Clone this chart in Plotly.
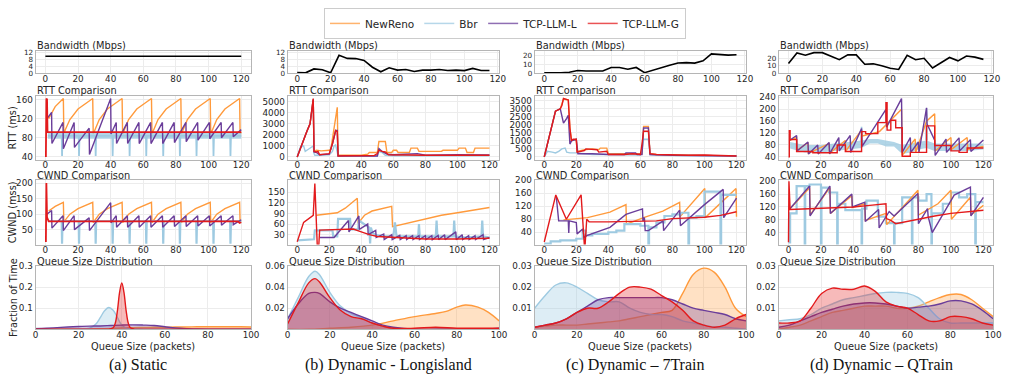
import plotly.graph_objects as go

W, H = 1016, 383

# ---------------- colours ----------------
C_RENO, F_RENO = '#ff9a3c', 'rgba(255,154,60,0.3)'
C_BBR, F_BBR = '#9ecae1', 'rgba(158,202,225,0.35)'
C_LLML, F_LLML = '#6a3d9a', 'rgba(106,61,154,0.3)'
C_LLMG, F_LLMG = '#e31a1c', 'rgba(227,26,28,0.3)'
BAND_BBR = 'rgba(158,202,225,0.8)'

series_names = ['NewReno', 'Bbr', 'TCP-LLM-L', 'TCP-LLM-G']
captions = ['(a) Static', '(b) Dynamic - Longisland', '(c) Dynamic \u2013 7Train', '(d) Dynamic \u2013 QTrain']
row_titles = ['Bandwidth (Mbps)', 'RTT Comparison', 'CWND Comparison', 'Queue Size Distribution']

# ---------------- bandwidth ----------------
bw_a_t = [0, 120]
bw_a = [10, 10]
bw_t = [0, 5, 10, 15, 20, 25, 30, 35, 40, 45, 50, 55, 60, 65, 70, 75, 80, 85, 90, 95, 100, 105, 110, 115]
bw_b = [0.3, 0.2, 2.5, 2.0, 0.2, 10.5, 8.7, 8.6, 7.5, 3.5, 0.8, 3.2, 1.8, 2.2, 1.0, 1.8, 1.8, 2.2, 1.6, 1.8, 1.5, 2.8, 1.6, 1.6]
bw_c = [0.5, 0.3, 0.3, 1.0, 3.0, 2.5, 2.5, 2.5, 6.5, 6.5, 4.5, 6.5, 0.5, 3.5, 6.5, 9.0, 11.5, 12.0, 11.5, 14.0, 22.0, 21.0, 20.5, 21.0]
bw_d = [13, 27, 24, 27.5, 27.5, 23, 18, 24.5, 24.5, 12, 12.5, 10, 6.5, 5, 24, 18, 20, 7, 14, 21, 16.5, 23, 21.5, 18.5]

# ---------------- (a) static: RTT ----------------
reno_rtt_a_t = [2, 6, 11, 11.3, 15, 20, 29, 29.3, 33, 38, 47, 47.3, 51, 56, 65, 65.3, 69, 74, 83, 83.3, 87, 92, 101, 101.3, 105, 110, 119, 119.3, 120]
reno_rtt_a = [120, 145, 162, 90, 118, 140, 162, 88, 118, 140, 162, 88, 118, 140, 162, 88, 118, 140, 162, 88, 118, 140, 162, 88, 118, 140, 162, 88, 92]
bbr_band_a_t = [1.5, 120]
bbr_band_a_lo = [78, 78]
bbr_band_a_hi = [90, 90]
bbr_rtt_a_t = [1.5, 10.0, 10.2, 10.5, 20.4, 20.6, 20.9, 30.6, 30.8, 31.1, 41.0, 41.2, 41.5, 51.4, 51.6, 51.9, 61.6, 61.8, 62.1, 72.0, 72.2, 72.5, 82.2, 82.4, 82.7, 92.4, 92.6, 92.9, 102.8, 103.0, 103.3, 113.2, 113.4, 113.7, 120]
bbr_rtt_a = [84, 84, 42, 84, 84, 42, 84, 84, 42, 84, 84, 42, 84, 84, 42, 84, 84, 42, 84, 84, 42, 84, 84, 42, 84, 84, 42, 84, 84, 42, 84, 84, 42, 84, 84]
llml_a_t = [1.0, 3.8, 4.0, 10.8, 11.0, 17.6, 17.8, 26.8, 27.0, 40.0, 40.2, 43.4, 43.6, 50.2, 50.4, 57.3, 57.5, 64.5, 64.7, 71.7, 71.9, 78.9, 79.1, 86.1, 86.3, 93.3, 93.5, 100.5, 100.7, 107.7, 107.9, 114.9, 115.1, 120]
llml_rtt_a = [120, 133, 68, 112, 57, 112, 60, 100, 45, 162, 88, 112, 68, 112, 68, 112, 68, 112, 68, 112, 68, 112, 70, 112, 72, 112, 75, 112, 78, 112, 80, 112, 82, 97]
llmg_rtt_a_t = [0.3, 0.6, 1.0, 1.3, 120]
llmg_rtt_a = [40, 162, 160, 92, 92]

# ---------------- (a) static: CWND ----------------
reno_cwnd_a = [110, 125, 138, 75, 100, 118, 138, 73, 100, 118, 138, 73, 100, 118, 138, 73, 100, 118, 138, 73, 100, 118, 138, 73, 100, 118, 138, 73, 76]
bbr_cwnd_a = [78, 78, 5, 78, 78, 5, 78, 78, 5, 78, 78, 5, 78, 78, 5, 78, 78, 5, 78, 78, 5, 78, 78, 5, 78, 78, 5, 78, 78, 5, 78, 78, 5, 78, 78]
llml_cwnd_a = [100, 112, 55, 95, 47, 95, 50, 88, 47, 137, 72, 95, 58, 95, 58, 95, 58, 95, 58, 95, 58, 95, 60, 95, 60, 95, 62, 95, 62, 95, 64, 95, 66, 82]
llmg_cwnd_a_t = [0.3, 0.6, 1.0, 2.0, 60, 118, 119, 120]
llmg_cwnd_a = [10, 200, 90, 77, 77, 77, 72, 74]

# ---------------- (b) Longisland: RTT ----------------
reno_rtt_b_t = [0, 3, 6, 8, 10, 10.5, 12, 15, 20, 21, 23, 25, 25.5, 30, 40, 44, 45, 50, 51, 55, 56, 59, 60, 62, 63, 70, 71, 75, 76, 90, 91, 100, 101, 105, 106, 110, 111, 120]
reno_rtt_b = [0, 1200, 2300, 3000, 5200, 500, 600, 550, 600, 700, 2500, 4500, 150, 150, 150, 250, 400, 400, 1400, 1400, 400, 400, 600, 600, 400, 400, 800, 800, 500, 500, 600, 600, 800, 800, 400, 400, 800, 800]
bbr_rtt_b_t = [0, 2, 4, 5, 7, 9, 10, 10.5, 11, 13, 20, 22, 23, 24, 25, 25.5, 50, 51, 53, 55, 60, 120]
bbr_rtt_b = [0, 900, 1000, 500, 700, 900, 1000, 300, 150, 150, 200, 500, 1000, 1100, 200, 80, 80, 500, 400, 150, 100, 100]
llml_rtt_b_t = [0, 3, 6, 8, 10, 10.5, 12, 14, 20, 22, 24, 25, 25.5, 50, 51, 53, 56, 60, 70, 75, 80, 100, 120]
llml_rtt_b = [0, 1200, 2300, 3000, 5200, 450, 400, 200, 250, 1200, 2400, 2400, 80, 80, 750, 500, 250, 200, 250, 300, 150, 200, 180]
llmg_rtt_b_t = [0, 3, 6, 8, 10, 10.5, 12, 13, 14, 17, 20, 22, 24, 25, 25.5, 30, 40, 48, 50, 51, 53, 55, 57, 60, 70, 80, 90, 100, 110, 120]
llmg_rtt_b = [0, 1200, 2300, 3000, 5300, 500, 450, 500, 200, 250, 300, 1200, 2400, 2300, 80, 100, 100, 120, 300, 600, 500, 450, 200, 180, 180, 150, 130, 150, 150, 150]

# ---------------- (b) Longisland: CWND ----------------
reno_cwnd_b_t = [12, 25, 30, 37.5, 38, 42, 46.7, 59, 59.5, 68, 80, 90, 100, 110, 120]
reno_cwnd_b = [85, 92, 105, 133, 62, 85, 97, 110, 53, 62, 75, 85, 92, 100, 107]
bbr_cwnd_b_t = [0, 9, 10.5, 11, 22, 22.5, 25, 25.5, 33, 33.5, 38, 38.5, 45, 45.5, 46, 47, 50, 55, 60, 61, 62, 70, 75.5, 76, 76.5, 86.5, 87, 87.5, 97.5, 98, 98.5, 105, 115, 115.5, 116, 120]
bbr_cwnd_b = [14, 17, 17, 42, 42, 25, 25, 75, 75, 45, 45, 70, 50, 5, 50, 35, 28, 25, 25, 65, 25, 25, 25, 60, 25, 25, 70, 25, 25, 70, 25, 22, 25, 70, 25, 22]
llml_cwnd_b_t = [14, 23, 32, 32.3, 38.5, 38.8, 44, 44.3, 49, 49.3, 54, 54.3, 59, 59.3, 64, 64.3, 68, 68.3, 72, 72.3, 76, 76.3, 80, 80.3, 84, 84.3, 88, 88.3, 92, 92.3, 99, 99.3, 103, 103.3, 107, 107.3, 111, 111.3, 116, 116.3, 120]
llml_cwnd_b = [22, 22, 70, 38, 83, 45, 60, 30, 42, 22, 32, 16, 30, 16, 28, 16, 27, 16, 27, 16, 27, 16, 27, 16, 27, 16, 28, 16, 30, 16, 38, 16, 30, 16, 27, 16, 27, 16, 30, 16, 22]
llmg_cwnd_b_t = [0, 4, 10, 11, 12.5, 13.5, 14, 20, 30, 35, 40, 45, 50, 60, 70, 80, 100, 120]
llmg_cwnd_b = [10, 65, 85, 175, 2, 2, 43, 44, 45, 46, 38, 30, 25, 22, 20, 18, 18, 20]

# ---------------- (c) 7Train: RTT ----------------
reno_rtt_c_t = [0, 4, 7, 10, 12, 15, 16, 17, 20, 20.5, 25, 30, 34, 35, 39, 40, 55, 61, 62, 65, 66, 70, 120]
reno_rtt_c = [0, 1600, 2850, 3000, 3600, 3550, 1800, 1050, 1050, 350, 450, 500, 450, 550, 550, 200, 200, 200, 1900, 1900, 200, 150, 50]
bbr_rtt_c_t = [0, 2, 5, 7, 9, 11, 13, 14, 16, 20, 25, 30, 40, 50, 60, 61, 62, 65, 66, 70, 80, 120]
bbr_rtt_c = [0, 350, 300, 250, 350, 500, 550, 300, 250, 250, 200, 150, 150, 150, 120, 400, 1100, 1100, 150, 100, 80, 50]
llml_rtt_c_t = [0, 4, 7, 10, 12, 14, 15, 16, 17, 20, 21, 30, 40, 50, 51, 57, 58, 61, 62, 65, 66, 80, 120]
llml_rtt_c = [0, 1600, 2850, 3000, 2100, 2400, 2600, 800, 1000, 1100, 200, 200, 150, 150, 250, 250, 150, 150, 1800, 1800, 150, 100, 60]
llmg_rtt_c_t = [0, 4, 7, 10, 11, 12, 15, 16, 17, 18, 20, 20.5, 25, 26, 30, 33, 34, 39, 40, 50, 55, 60, 61, 62, 65, 66, 70, 80, 90, 100, 110, 120]
llmg_rtt_c = [0, 1600, 2850, 3000, 3200, 3640, 3550, 1800, 1000, 1100, 1100, 300, 400, 500, 450, 450, 300, 350, 150, 150, 200, 150, 800, 1600, 1600, 200, 150, 120, 100, 120, 80, 60]

# ---------------- (c) 7Train: CWND ----------------
reno_cwnd_c_t = [12, 27, 41, 51, 51.3, 62, 74, 84.5, 84.8, 100.2, 100.5, 119.7, 120]
reno_cwnd_c = [78, 85, 102, 125, 65, 85, 105, 132, 88, 175, 85, 175, 88]
bbr_cwnd_c_t = [0, 4, 10, 20, 24, 26, 30, 40, 45, 50, 60, 65, 65.4, 66, 70, 75, 80, 85, 90, 90.4, 91, 95, 100, 110, 110.4, 111, 120]
bbr_cwnd_c = [5, 12, 15, 20, 45, 30, 35, 40, 45, 65, 60, 3, 55, 55, 70, 90, 95, 100, 3, 85, 85, 90, 165, 3, 155, 155, 155]
llml_cwnd_c_t = [7.5, 9, 15, 15.3, 15.6, 20, 20.5, 24, 25, 26.5, 41, 51, 61.3, 61.6, 62.5, 63, 65, 74.2, 74.5, 84.5, 85, 100, 111.7, 112, 120]
llml_cwnd_c = [150, 75, 75, 38, 75, 70, 35, 50, 22, 30, 55, 95, 112, 75, 85, 45, 45, 75, 45, 108, 60, 125, 172, 85, 145]
llmg_cwnd_c_t = [0, 7.2, 13.8, 23, 25, 25.5, 26.5, 28, 40, 50, 60, 70, 80, 90, 100, 110, 120]
llmg_cwnd_c = [10, 155, 80, 155, 2, 2, 80, 72, 72, 73, 73, 75, 82, 85, 86, 92, 103]

# ---------------- (d) QTrain: RTT ----------------
reno_rtt_d_t = [0.5, 5, 5.3, 12, 12.3, 25, 25.3, 35, 35.3, 45, 45.3, 56, 69.6, 70, 78, 78.3, 85, 90, 90.3, 100, 100.3, 110, 110.3, 120]
reno_rtt_d = [95, 105, 62, 88, 52, 85, 52, 95, 60, 130, 110, 125, 200, 45, 100, 55, 160, 185, 60, 105, 65, 105, 65, 75]
bbr_band_d_t = [1, 10, 20, 30, 40, 45, 50, 55, 60, 65, 70, 75, 80, 85, 90, 100, 110, 120]
bbr_band_d_lo = [68, 55, 55, 60, 65, 70, 85, 85, 75, 75, 50, 55, 65, 70, 60, 60, 60, 65]
bbr_band_d_hi = [90, 80, 80, 85, 90, 95, 100, 100, 95, 90, 80, 85, 90, 95, 85, 85, 85, 85]
bbr_spike_d_t = [44.7, 45, 45.3, None, 84.7, 85, 85.3]
bbr_spike_d = [90, 141, 90, None, 95, 204, 95]
llml_rtt_d_t = [0.5, 5, 5.3, 12, 12.3, 18, 18.3, 25, 25.3, 31, 31.3, 38, 38.3, 45, 45.3, 60, 60.4, 69.6, 70, 75, 75.3, 80, 80.3, 85, 85.3, 90, 90.3, 97, 97.3, 105, 105.3, 112, 112.3, 120]
llml_rtt_d = [95, 112, 60, 90, 50, 80, 50, 88, 50, 105, 60, 112, 55, 135, 75, 200, 140, 236, 55, 105, 55, 90, 55, 205, 150, 96, 45, 100, 55, 104, 60, 98, 58, 97]
llmg_rtt_d_t = [0, 0.5, 1, 5, 15, 25, 30, 35, 45, 47.5, 55, 60, 60.7, 63, 66, 70, 75, 85, 90, 100, 105, 110, 120]
llmg_rtt_d = [40, 128, 98, 58, 54, 54, 80, 58, 125, 118, 155, 222, 130, 163, 138, 42, 55, 144, 78, 60, 55, 70, 70]

# ---------------- (d) QTrain: CWND ----------------
reno_cwnd_d_t = [0.5, 13, 13.3, 25.5, 25.8, 39, 39.3, 47, 47.3, 60, 60.5, 79.7, 80, 92, 100, 100.3, 112, 112.3, 120]
reno_cwnd_d = [112, 180, 95, 180, 100, 155, 118, 130, 78, 100, 65, 172, 95, 130, 172, 82, 150, 95, 125]
bbr_cwnd_d_t = [0, 1, 5, 10, 10.3, 13, 20, 20.3, 25, 30, 30.3, 35, 45, 45.3, 48, 55, 60, 65, 65.3, 70, 76, 76.3, 80, 85, 88, 88.3, 95, 100, 105, 110, 115, 115.3, 120]
bbr_cwnd_d = [10, 100, 185, 3, 185, 190, 3, 180, 165, 3, 130, 110, 3, 115, 140, 90, 70, 3, 70, 150, 3, 150, 140, 160, 3, 100, 130, 165, 150, 160, 3, 135, 135]
llml_cwnd_d_t = [0.5, 13, 13.3, 25.5, 25.8, 39, 39.3, 47, 47.3, 55.5, 55.8, 62, 65, 79.7, 80, 85.6, 86, 88.5, 102, 112, 112.3, 120]
llml_cwnd_d = [112, 185, 92, 185, 100, 160, 120, 135, 75, 112, 55, 106, 92, 162, 68, 115, 90, 40, 157, 182, 92, 150]
llmg_cwnd_d_t = [0, 0.3, 1, 20, 40, 50, 60, 60.3, 63, 66, 70, 80, 90, 100, 110, 120]
llmg_cwnd_d = [10, 200, 112, 117, 120, 125, 130, 84, 78, 68, 72, 84, 92, 100, 106, 110]

# ---------------- queue size distributions ----------------
q_x = [0, 5, 10, 15, 20, 25, 30, 35, 40, 45, 50, 55, 60, 65, 70, 75, 80, 85, 90, 95, 100]

reno_q_a = [0, 0, 0, 0, 0.001, 0.002, 0.003, 0.004, 0.006, 0.008, 0.009, 0.01, 0.01, 0.011, 0.011, 0.012, 0.012, 0.012, 0.012, 0.012, 0.011]
bbr_q_a_x = [0, 5, 10, 15, 20, 25, 28, 30, 32, 34, 36, 38, 40, 42, 45, 50, 60, 70, 80, 90, 100]
bbr_q_a = [0.004, 0.002, 0.001, 0.001, 0.002, 0.005, 0.025, 0.055, 0.088, 0.103, 0.09, 0.055, 0.02, 0.006, 0.002, 0.001, 0, 0, 0, 0, 0]
llml_q_a = [0.003, 0.005, 0.008, 0.011, 0.013, 0.015, 0.016, 0.018, 0.02, 0.021, 0.02, 0.018, 0.012, 0.006, 0.003, 0.002, 0.001, 0, 0, 0, 0]
llmg_q_a_x = [0, 30, 34, 36, 37, 38, 39, 40, 41, 42, 43, 44, 46, 50, 100]
llmg_q_a = [0, 0, 0.001, 0.007, 0.03, 0.09, 0.176, 0.22, 0.176, 0.09, 0.03, 0.007, 0.001, 0, 0]

reno_q_b_x = [0, 10, 20, 30, 40, 50, 60, 70, 75, 80, 84, 90, 95, 100]
reno_q_b = [0, 0, 0.001, 0.002, 0.004, 0.008, 0.012, 0.015, 0.017, 0.021, 0.023, 0.021, 0.016, 0.008]
bbr_q_b_x = [0, 5, 10, 13, 15, 20, 25, 30, 35, 40, 45, 50, 60, 70, 80, 90, 100]
bbr_q_b = [0.01, 0.03, 0.05, 0.055, 0.052, 0.035, 0.022, 0.015, 0.011, 0.006, 0.003, 0.001, 0, 0, 0, 0, 0]
llml_q_b = [0.01, 0.024, 0.034, 0.035, 0.034, 0.026, 0.02, 0.016, 0.012, 0.008, 0.004, 0.002, 0, 0, 0, 0, 0.001]
llmg_q_b = [0.005, 0.025, 0.044, 0.048, 0.045, 0.03, 0.018, 0.012, 0.01, 0.006, 0.003, 0.001, 0.001, 0.002, 0.001, 0.001, 0.001]

reno_q_c = [0.001, 0.0015, 0.002, 0.002, 0.002, 0.0025, 0.003, 0.0035, 0.004, 0.005, 0.006, 0.007, 0.008, 0.009, 0.017, 0.026, 0.029, 0.027, 0.02, 0.01, 0.006]
bbr_q_c = [0.01, 0.016, 0.021, 0.022, 0.02, 0.017, 0.014, 0.013, 0.013, 0.01, 0.008, 0.007, 0.007, 0.006, 0.004, 0.003, 0.002, 0.001, 0.001, 0.0005, 0]
llml_q_c = [0.001, 0.002, 0.003, 0.005, 0.008, 0.011, 0.014, 0.015, 0.015, 0.015, 0.015, 0.015, 0.015, 0.014, 0.012, 0.01, 0.009, 0.008, 0.007, 0.005, 0.004]
llmg_q_c = [0.001, 0.002, 0.003, 0.005, 0.008, 0.01, 0.01, 0.013, 0.017, 0.02, 0.02, 0.019, 0.016, 0.013, 0.009, 0.004, 0.002, 0.001, 0.002, 0.005, 0.007]

reno_q_d = [0, 0.001, 0.002, 0.004, 0.006, 0.008, 0.009, 0.01, 0.011, 0.011, 0.011, 0.01, 0.01, 0.011, 0.013, 0.015, 0.0165, 0.0165, 0.014, 0.01, 0.006]
bbr_q_d = [0.004, 0.0045, 0.005, 0.007, 0.01, 0.012, 0.014, 0.015, 0.016, 0.017, 0.0175, 0.0175, 0.017, 0.015, 0.01, 0.005, 0.003, 0.003, 0.003, 0.003, 0.003]
llml_q_d = [0.001, 0.002, 0.004, 0.006, 0.008, 0.0095, 0.011, 0.012, 0.0125, 0.0125, 0.012, 0.011, 0.01, 0.0105, 0.011, 0.012, 0.0135, 0.0135, 0.012, 0.009, 0.005]
llmg_q_d = [0.003, 0.003, 0.004, 0.01, 0.017, 0.0195, 0.019, 0.019, 0.0205, 0.018, 0.013, 0.011, 0.01, 0.007, 0.004, 0.004, 0.006, 0.006, 0.005, 0.003, 0.002]

# ---------------- axis settings ----------------
time_ticks = [0, 20, 40, 60, 80, 100, 120]
queue_ticks = [0, 20, 40, 60, 80, 100]
x_ranges = [
    [[-6, 126], [-5.75, 120.75], [-5.75, 120.75], [-5.75, 120.75]],
    [[-6, 126]] * 4,
    [[-6, 126]] * 4,
    [[0, 100]] * 4,
]
y_ranges = [
    [[0, 13.2], [0, 13.2], [0, 25.5], [0, 30]],
    [[34, 168], [-265, 5565], [-182, 3822], [30, 246]],
    [[2, 209], [2, 184], [2, 200], [3, 203]],
    [[0, 0.3], [0, 0.06], [0, 0.03], [0, 0.03]],
]
y_ticks = [
    [[0, 4, 8, 12], [0, 4, 8, 12], [0, 10, 20], [0, 10, 20]],
    [[40, 80, 120, 160], [0, 1000, 2000, 3000, 4000, 5000], [0, 500, 1000, 1500, 2000, 2500, 3000, 3500], [40, 80, 120, 160, 200, 240]],
    [[50, 100, 150, 200], [30, 60, 90, 120, 150], [40, 80, 120, 160, 200], [40, 80, 120, 160, 200]],
    [[0.1, 0.2, 0.3], [0.02, 0.04, 0.06], [0.01, 0.02, 0.03], [0.01, 0.02, 0.03]],
]
y_ticktext = [
    None, None, None,
    [['0.1', '0.2', '0.3'], ['0.02', '0.04', '0.06'], ['0.01', '0.02', '0.03'], ['0.01', '0.02', '0.03']],
]

COL_PX = [(33, 251), (288, 502), (538, 752), (785, 1002)]
ROW_PX = [(47, 70), (93, 159), (180, 246), (268, 333)]

FONT = 'DejaVu Sans'
TXT = '#262626'

fig = go.Figure()


def refs(r, c):
    n = r * 4 + c + 1
    return ('x' if n == 1 else f'x{n}'), ('y' if n == 1 else f'y{n}')


def line(r, c, x, y, color, width=1.4, shape='linear', fill=None, fillcolor=None):
    xr, yr = refs(r, c)
    fig.add_trace(go.Scatter(
        x=x, y=y, mode='lines', xaxis=xr, yaxis=yr,
        line=dict(color=color, width=width, shape=shape),
        fill=fill, fillcolor=fillcolor, showlegend=False, hoverinfo='skip',
        connectgaps=False))


def band(r, c, t, lo, hi, color):
    xr, yr = refs(r, c)
    fig.add_trace(go.Scatter(x=t, y=lo, mode='lines', xaxis=xr, yaxis=yr,
                             line=dict(width=0, color=color), showlegend=False, hoverinfo='skip'))
    fig.add_trace(go.Scatter(x=t, y=hi, mode='lines', xaxis=xr, yaxis=yr,
                             line=dict(width=0, color=color), fill='tonexty', fillcolor=color,
                             showlegend=False, hoverinfo='skip'))


# bandwidth
line(0, 0, bw_a_t, bw_a, 'black', 1.6)
line(0, 1, bw_t, bw_b, 'black', 1.6)
line(0, 2, bw_t, bw_c, 'black', 1.6)
line(0, 3, bw_t, bw_d, 'black', 1.6)

# (a)
line(1, 0, reno_rtt_a_t, reno_rtt_a, C_RENO)
band(1, 0, bbr_band_a_t, bbr_band_a_lo, bbr_band_a_hi, BAND_BBR)
line(1, 0, bbr_rtt_a_t, bbr_rtt_a, C_BBR, 1.8)
line(1, 0, llml_a_t, llml_rtt_a, C_LLML)
line(1, 0, llmg_rtt_a_t, llmg_rtt_a, C_LLMG, 1.8)
line(2, 0, reno_rtt_a_t, reno_cwnd_a, C_RENO)
line(2, 0, bbr_rtt_a_t, bbr_cwnd_a, C_BBR, 2.2)
line(2, 0, llml_a_t, llml_cwnd_a, C_LLML)
line(2, 0, llmg_cwnd_a_t, llmg_cwnd_a, C_LLMG, 1.8)

# (b)
line(1, 1, reno_rtt_b_t, reno_rtt_b, C_RENO)
line(1, 1, bbr_rtt_b_t, bbr_rtt_b, C_BBR)
line(1, 1, llml_rtt_b_t, llml_rtt_b, C_LLML)
line(1, 1, llmg_rtt_b_t, llmg_rtt_b, C_LLMG)
line(2, 1, reno_cwnd_b_t, reno_cwnd_b, C_RENO)
line(2, 1, bbr_cwnd_b_t, bbr_cwnd_b, C_BBR, 2.2)
line(2, 1, llml_cwnd_b_t, llml_cwnd_b, C_LLML)
line(2, 1, llmg_cwnd_b_t, llmg_cwnd_b, C_LLMG)

# (c)
line(1, 2, reno_rtt_c_t, reno_rtt_c, C_RENO)
line(1, 2, bbr_rtt_c_t, bbr_rtt_c, C_BBR)
line(1, 2, llml_rtt_c_t, llml_rtt_c, C_LLML)
line(1, 2, llmg_rtt_c_t, llmg_rtt_c, C_LLMG)
line(2, 2, reno_cwnd_c_t, reno_cwnd_c, C_RENO)
line(2, 2, bbr_cwnd_c_t, bbr_cwnd_c, C_BBR, 2.2, 'hv')
line(2, 2, llml_cwnd_c_t, llml_cwnd_c, C_LLML)
line(2, 2, llmg_cwnd_c_t, llmg_cwnd_c, C_LLMG)

# (d)
band(1, 3, bbr_band_d_t, bbr_band_d_lo, bbr_band_d_hi, BAND_BBR)
line(1, 3, bbr_spike_d_t, bbr_spike_d, C_BBR, 1.6)
line(1, 3, reno_rtt_d_t, reno_rtt_d, C_RENO)
line(1, 3, llml_rtt_d_t, llml_rtt_d, C_LLML)
line(1, 3, llmg_rtt_d_t, llmg_rtt_d, C_LLMG, 1.4, 'hv')
line(2, 3, bbr_cwnd_d_t, bbr_cwnd_d, C_BBR, 2.2, 'hv')
line(2, 3, reno_cwnd_d_t, reno_cwnd_d, C_RENO)
line(2, 3, llml_cwnd_d_t, llml_cwnd_d, C_LLML)
line(2, 3, llmg_cwnd_d_t, llmg_cwnd_d, C_LLMG)

# queue distributions
q_sets = [
    [(q_x, reno_q_a), (bbr_q_a_x, bbr_q_a), (q_x, llml_q_a), (llmg_q_a_x, llmg_q_a)],
    [(reno_q_b_x, reno_q_b), (bbr_q_b_x, bbr_q_b), (bbr_q_b_x, llml_q_b), (bbr_q_b_x, llmg_q_b)],
    [(q_x, reno_q_c), (q_x, bbr_q_c), (q_x, llml_q_c), (q_x, llmg_q_c)],
    [(q_x, reno_q_d), (q_x, bbr_q_d), (q_x, llml_q_d), (q_x, llmg_q_d)],
]
lcols = [C_RENO, C_BBR, C_LLML, C_LLMG]
fcols = [F_RENO, F_BBR, F_LLML, F_LLMG]
for c, sets in enumerate(q_sets):
    for k, (xs, ys) in enumerate(sets):
        line(3, c, xs, ys, lcols[k], 1.4, 'spline', 'tozeroy', fcols[k])

# legend entries
for name, col in zip(series_names, lcols):
    fig.add_trace(go.Scatter(x=[None], y=[None], mode='lines', name=name,
                             line=dict(color=col, width=1.5), opacity=0.75))

layout = dict(
    width=W, height=H, margin=dict(l=0, r=0, t=0, b=0),
    paper_bgcolor='white', plot_bgcolor='white',
    font=dict(family=FONT, size=9, color=TXT),
    legend=dict(orientation='h', x=0.5, xanchor='center', y=1 - 3 / H, yanchor='top',
                traceorder='normal',
                bordercolor='#cccccc', borderwidth=1, bgcolor='white',
                font=dict(family=FONT, size=10.5, color=TXT), itemwidth=30),
)

for r in range(4):
    for c in range(4):
        n = r * 4 + c + 1
        x0, x1 = COL_PX[c]
        y0, y1 = ROW_PX[r]
        xt = queue_ticks if r == 3 else time_ticks
        layout[f'xaxis{n}'] = dict(
            domain=[x0 / W, x1 / W], anchor=('y' if n == 1 else f'y{n}'),
            range=x_ranges[r][c], tickmode='array', tickvals=xt,
            showgrid=True, gridcolor='#ececec', gridwidth=1, zeroline=False,
            showline=True, mirror=True, linecolor='#b5b5b5', linewidth=1,
            ticks='', ticklabelstandoff=-3,
            tickfont=dict(family=FONT, size=8.8, color=TXT))
        ya = dict(
            domain=[1 - y1 / H, 1 - y0 / H], anchor=('x' if n == 1 else f'x{n}'),
            range=y_ranges[r][c], tickmode='array', tickvals=y_ticks[r][c],
            showgrid=True, gridcolor='#ececec', gridwidth=1, zeroline=False,
            showline=True, mirror=True, linecolor='#b5b5b5', linewidth=1,
            ticks='', tickfont=dict(family=FONT, size=(7.2 if r == 0 else 8.8), color=TXT))
        if y_ticktext[r] is not None:
            ya['ticktext'] = y_ticktext[r][c]
        layout[f'yaxis{n}'] = ya

annotations = []
for r in range(4):
    for c in range(4):
        x0, x1 = COL_PX[c]
        y0, y1 = ROW_PX[r]
        annotations.append(dict(text=row_titles[r], x=(x0 - 1) / W, xanchor='left',
                                y=1 - (y0 - 5) / H, yanchor='middle', xref='paper', yref='paper',
                                showarrow=False, font=dict(family=FONT, size=9.8, color=TXT)))
for c in range(4):
    x0, x1 = COL_PX[c]
    annotations.append(dict(text='Queue Size (packets)', x=(x0 + x1) / 2 / W, xanchor='center',
                            y=1 - 351 / H, yanchor='middle', xref='paper', yref='paper',
                            showarrow=False, font=dict(family=FONT, size=9.8, color=TXT)))
    annotations.append(dict(text=captions[c], x=(x0 + x1) / 2 / W - 5 / W, xanchor='center',
                            y=1 - 370 / H, yanchor='middle', xref='paper', yref='paper',
                            showarrow=False, font=dict(family='Liberation Serif', size=16, color='#111')))
for txt, yc in [('RTT (ms)', 126), ('CWND (mss)', 213), ('Fraction of Time', 300)]:
    annotations.append(dict(text=txt, x=10 / W, xanchor='center', y=1 - yc / H, yanchor='middle',
                            xref='paper', yref='paper', textangle=-90, showarrow=False,
                            font=dict(family=FONT, size=9.8, color=TXT)))
layout['annotations'] = annotations

fig.update_layout(**layout)
fig.write_html('out.html')
